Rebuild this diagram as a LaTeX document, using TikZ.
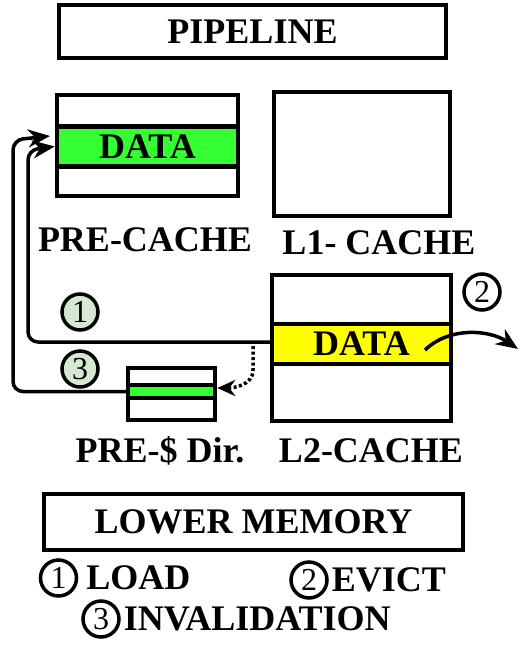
\documentclass[tikz,border=0pt]{standalone}
\usepackage{fontspec}
\setmainfont{Liberation Serif}
\usetikzlibrary{arrows.meta}
\usetikzlibrary{positioning}
\definecolor{datagreen}{RGB}{51,255,51}
\definecolor{datayellow}{RGB}{255,255,0}
\definecolor{stepgreen}{RGB}{213,232,212}
\tikzstyle{blk}=[draw, line width=4.5pt, inner sep=0pt]
\tikzstyle{lbl}=[font=\bfseries\fontsize{36}{36}\selectfont, inner sep=0pt]
\tikzstyle{band}=[blk, lbl]
\tikzstyle{num}=[circle, draw, line width=3.5pt, minimum size=36pt, inner sep=0pt, font=\fontsize{32}{32}\selectfont]
\tikzstyle{snum}=[num, fill=stepgreen]
\tikzstyle{link}=[line width=3.5pt, rounded corners=10pt, -{Stealth[length=22pt, width=18pt]}]

\begin{document}
\begin{tikzpicture}[x=1pt, y=-1pt]
    \useasboundingbox (0,0) rectangle (519,656);
    % top and bottom levels
    \node[blk, lbl, minimum width=387, minimum height=53] (pipe) at (252.5,31.5) {PIPELINE};
    \node[blk, lbl, minimum width=419, minimum height=56] (lowmem) at (253.5,522) {LOWER MEMORY};

    % caches
    \node[blk, minimum width=181, minimum height=101] (pre) at (147.5,145.5) {};
    \node[band, fill=datagreen, minimum width=181, minimum height=40] (preband) at (147.5,146.5) {DATA};
    \node[lbl] (prelbl) at (145,240) {PRE-CACHE};
    \node[blk, minimum width=176, minimum height=124] (l1) at (362,154) {};
    \node[lbl] (l1lbl) at (379,243) {L1- CACHE};
    \node[blk, minimum width=179, minimum height=146] (l2) at (361.5,348) {};
    \node[band, fill=datayellow, minimum width=179, minimum height=40] (l2band) at (361.5,344) {DATA};
    \node[lbl] (l2lbl) at (371,451) {L2-CACHE};
    \node[blk, minimum width=87, minimum height=52] (pdir) at (171.5,394) {};
    \node[blk, fill=datagreen, minimum width=87, minimum height=13] (pdirband) at (171.5,391.5) {};
    \node[lbl] (pdirlbl) at (160,451) {PRE-\$ Dir.};

    % steps
    \node[snum] (s1) at (80,312) {1};
    \node[snum] (s3) at (80,369) {3};
    \node[num, fill=white] (s2) at (482,292) {2};
    \coordinate (tap) at (253,346);
    \coordinate (evsrc) at (425,350);
    \coordinate (evdst) at (518,349);
    \coordinate (tip3) at (50,136);

    \draw[link] (l2.west |- 0,342) -| (28,150) -- (preband.west);
    \draw[link] (pdirband.west) -| (13,140) -- (tip3);
    \draw[line width=3.5pt, dash pattern=on 3pt off 2.5pt, -{Stealth[length=18pt, width=16pt]}] (tap) -- (253,370) to[out=-90, in=0] (pdir.east |- 0,388);
    \draw[line width=3.5pt, -{Stealth[length=22pt, width=18pt]}] (evsrc) .. controls (450,326) and (490,330) .. (evdst);

    % legend
    \node[num] (k1) at (58.5,578) {1};
    \node[lbl, right=8pt of k1] (k1lbl) {LOAD};
    \node[num] (k2) at (309,580) {2};
    \node[lbl, right=3pt of k2] (k2lbl) {EVICT};
    \node[num] (k3) at (101,619) {3};
    \node[lbl, right=3pt of k3] (k3lbl) {INVALIDATION};
\end{tikzpicture}
\end{document}
